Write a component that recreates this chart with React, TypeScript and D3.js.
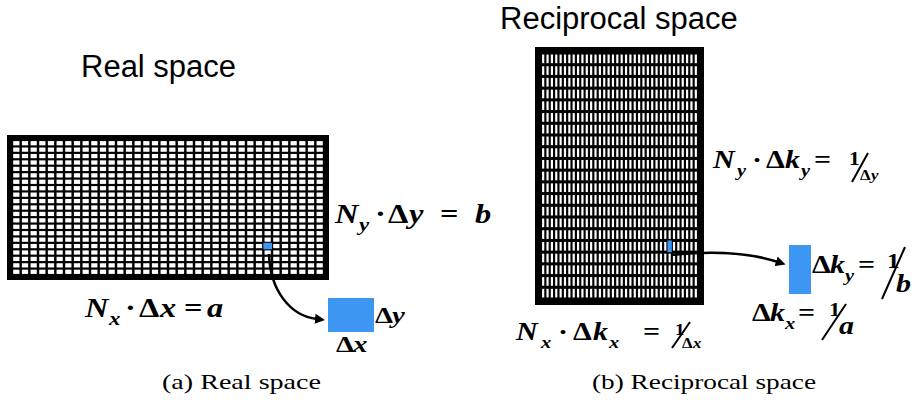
import React from "react";
import * as d3 from "d3";

// Both lattices share the same number of sampling points.
const N_COLS = 36;
const N_ROWS = 21;
// Highlighted sample: [column, row]
const HIGHLIGHT_CELL = [29, 16];
const PANEL_TITLES = ["Real space", "Reciprocal space"];
const CAPTIONS = ["(a) Real space", "(b) Reciprocal space"];

const BLUE = "#3d96f2";
const MATH_FONT = "'Liberation Serif', 'Times New Roman', serif";
const SANS_FONT = "'Liberation Sans', Arial, sans-serif";
// Formula glyphs are set a little wide.
const MATH_STRETCH = 1.2;

type GridProps = {
  x0: number; x1: number; y0: number; y1: number;
  border: number; padX: number; padY: number;
};

function Grid({ x0, x1, y0, y1, border, padX, padY }: GridProps) {
  const xs = d3.scaleBand<number>()
    .domain(d3.range(N_COLS))
    .range([x0 + border, x1 - border])
    .paddingInner(padX)
    .paddingOuter(padX / 2);
  const ys = d3.scaleBand<number>()
    .domain(d3.range(N_ROWS))
    .range([y0 + border, y1 - border])
    .paddingInner(padY)
    .paddingOuter(padY / 2);
  const [hc, hr] = HIGHLIGHT_CELL;
  const cells: { c: number; r: number }[] = [];
  for (const r of d3.range(N_ROWS)) for (const c of d3.range(N_COLS)) cells.push({ c, r });
  return (
    <g>
      <rect x={x0} y={y0} width={x1 - x0} height={y1 - y0} fill="#000" />
      {cells.map(({ c, r }) => (
        <rect key={`${c}-${r}`} x={xs(c)} y={ys(r)} width={xs.bandwidth()} height={ys.bandwidth()} fill="#fff" />
      ))}
      <rect
        x={(xs(hc) as number) - (xs.step() - xs.bandwidth()) / 2}
        y={(ys(hr) as number) - (ys.step() - ys.bandwidth()) / 2}
        width={xs.step()}
        height={ys.step()}
        fill={BLUE}
      />
    </g>
  );
}

type PieceProps = { x: number; y: number; s: number; t: string; up?: boolean };
function M({ x, y, s, t, up }: PieceProps) {
  return (
    <text
      transform={`translate(${x},${y}) scale(${MATH_STRETCH},1)`}
      fontSize={s}
      fontFamily={MATH_FONT}
      fontWeight="bold"
      fontStyle={up ? "normal" : "italic"}
      fill="#000"
    >
      {t}
    </text>
  );
}

function Slash({ x1, y1, x2, y2 }: { x1: number; y1: number; x2: number; y2: number }) {
  return <line x1={x1} y1={y1} x2={x2} y2={y2} stroke="#000" strokeWidth={2} />;
}

export default function App() {
  const arrowLeft = d3.path();
  arrowLeft.moveTo(269, 254);
  arrowLeft.bezierCurveTo(270, 290, 290, 316, 317, 319);
  const arrowRight = d3.path();
  arrowRight.moveTo(671, 255);
  arrowRight.quadraticCurveTo(735, 248, 778, 262);

  return (
    <svg width={916} height={400} style={{ position: "absolute", left: 0, top: 0, background: "#fff" }}>
      <defs>
        <marker id="head" viewBox="0 0 10 10" refX="2" refY="5" markerWidth="4" markerHeight="4" orient="auto" markerUnits="strokeWidth">
          <path d="M0,0 L10,5 L0,10 z" fill="#000" />
        </marker>
      </defs>

      {/* titles */}
      <text x={81} y={77} fontSize={31} fontFamily={SANS_FONT} fill="#000">{PANEL_TITLES[0]}</text>
      <text x={500} y={29} fontSize={31} fontFamily={SANS_FONT} fill="#000">{PANEL_TITLES[1]}</text>

      {/* real-space lattice */}
      <Grid x0={7} x1={329} y0={135} y1={280} border={5} padX={0.28} padY={0.34} />
      {/* reciprocal-space lattice */}
      <Grid x0={535} x1={704} y0={47} y1={305} border={6} padX={0.5} padY={0.26} />

      {/* arrows */}
      <path d={arrowLeft.toString()} fill="none" stroke="#000" strokeWidth={2.5} markerEnd="url(#head)" />
      <path d={arrowRight.toString()} fill="none" stroke="#000" strokeWidth={2.5} markerEnd="url(#head)" />

      {/* enlarged cells */}
      <rect x={328} y={298} width={46} height={34} fill={BLUE} />
      <rect x={789} y={245} width={22} height={49} fill={BLUE} />

      {/* real space: N_y·Δy = b */}
      <M x={335} y={223} s={27} t="N" />
      <M x={359} y={231} s={19} t="y" />
      <M x={375} y={223} s={27} t="·" up />
      <M x={388} y={223} s={27} t="Δ" up />
      <M x={409} y={223} s={27} t="y" />
      <M x={440} y={223} s={27} t="=" up />
      <M x={475} y={223} s={27} t="b" />

      {/* real space: N_x·Δx = a */}
      <M x={85} y={317} s={27} t="N" />
      <M x={109} y={325} s={19} t="x" />
      <M x={125} y={317} s={27} t="·" up />
      <M x={139} y={317} s={27} t="Δ" up />
      <M x={160} y={317} s={27} t="x" />
      <M x={184} y={317} s={27} t="=" up />
      <M x={207} y={317} s={27} t="a" />

      {/* real space cell labels */}
      <M x={375} y={323} s={24} t="Δ" up />
      <M x={392} y={323} s={24} t="y" />
      <M x={336} y={352} s={24} t="Δ" up />
      <M x={353} y={352} s={24} t="x" />

      {/* reciprocal: N_y·Δk_y = 1/Δy */}
      <M x={713} y={168} s={25} t="N" />
      <M x={737} y={176} s={17} t="y" />
      <M x={752} y={168} s={25} t="·" up />
      <M x={766} y={168} s={25} t="Δ" up />
      <M x={785} y={168} s={25} t="k" />
      <M x={801} y={176} s={17} t="y" />
      <M x={814} y={168} s={25} t="=" up />
      <M x={849} y={165} s={18} t="1" up />
      <Slash x1={852} y1={182} x2={868} y2={153} />
      <M x={860} y={180} s={14} t="Δ" up />
      <M x={871} y={180} s={14} t="y" />

      {/* reciprocal: Δk_y = 1/b */}
      <M x={812} y={273} s={25} t="Δ" up />
      <M x={830} y={273} s={25} t="k" />
      <M x={845} y={281} s={17} t="y" />
      <M x={858} y={273} s={25} t="=" up />
      <M x={887} y={268} s={21} t="1" up />
      <Slash x1={882} y1={299} x2={905} y2={247} />
      <M x={896} y={292} s={25} t="b" />

      {/* reciprocal: Δk_x = 1/a */}
      <M x={752} y={321} s={25} t="Δ" up />
      <M x={770} y={321} s={25} t="k" />
      <M x={785} y={329} s={17} t="x" />
      <M x={798} y={321} s={25} t="=" up />
      <M x={829} y={316} s={19} t="1" up />
      <Slash x1={822} y1={340} x2={846} y2={304} />
      <M x={839} y={334} s={25} t="a" />

      {/* reciprocal: N_x·Δk_x = 1/Δx */}
      <M x={516} y={340} s={25} t="N" />
      <M x={541} y={348} s={17} t="x" />
      <M x={558} y={340} s={25} t="·" up />
      <M x={573} y={340} s={25} t="Δ" up />
      <M x={593} y={340} s={25} t="k" />
      <M x={609} y={348} s={17} t="x" />
      <M x={643} y={340} s={25} t="=" up />
      <M x={675} y={335} s={16} t="1" up />
      <Slash x1={672} y1={348} x2={690} y2={322} />
      <M x={682} y={348} s={14} t="Δ" up />
      <M x={693} y={348} s={14} t="x" />

      {/* captions */}
      <text x={162} y={389} fontSize={21} fontFamily={MATH_FONT} textLength={159} lengthAdjust="spacingAndGlyphs" fill="#000">{CAPTIONS[0]}</text>
      <text x={592} y={389} fontSize={21} fontFamily={MATH_FONT} textLength={224} lengthAdjust="spacingAndGlyphs" fill="#000">{CAPTIONS[1]}</text>
    </svg>
  );
}
